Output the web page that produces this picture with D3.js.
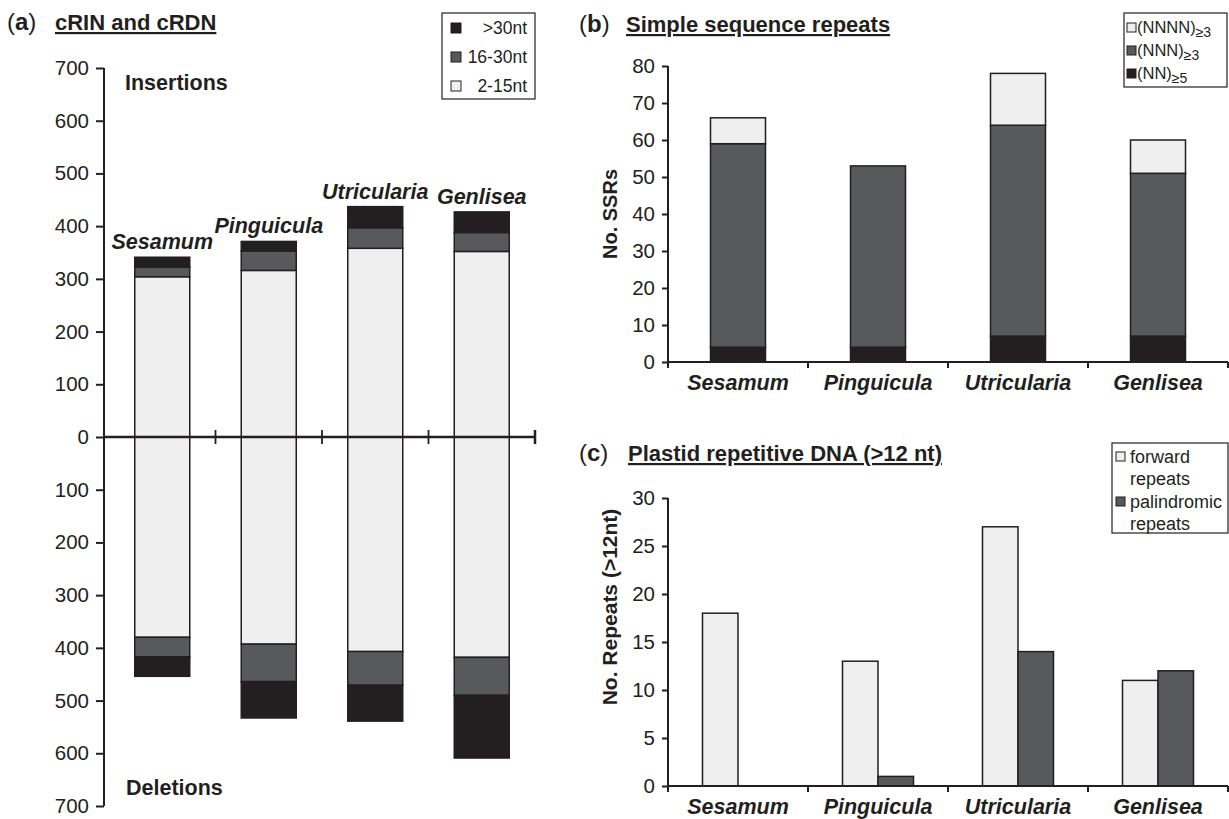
<!DOCTYPE html>
<html><head><meta charset="utf-8">
<script src="https://cdn.jsdelivr.net/npm/d3@7"></script>
<style>
body{margin:0;background:#fff;}
text{font-family:"Liberation Sans",Arial,Helvetica,sans-serif;fill:#231f20;}
</style></head>
<body><svg id="c" width="1229" height="819"></svg>
<script>
// ---- data ----
const species = ["Sesamum","Pinguicula","Utricularia","Genlisea"];
// (a) cRIN insertions / cRDN deletions by size class
const insSmall = [304,316,358,352];   // 2-15nt
const insMid   = [18,37,39,36];       // 16-30nt
const insLarge = [19,18,40,39];       // >30nt
const delSmall = [380,393,407,418];
const delMid   = [37,71,64,72];
const delLarge = [37,69,68,119];
const ticksA = [-700,-600,-500,-400,-300,-200,-100,0,100,200,300,400,500,600,700];
// (b) SSRs
const ssrNN   = [4,4,7,7];
const ssrNNN  = [55,49,57,44];
const ssrNNNN = [7,0,14,9];
const ticksB = [0,10,20,30,40,50,60,70,80];
// (c) plastid repeats
const fwdRep = [18,13,27,11];
const palRep = [0,1,14,12];
const ticksC = [0,5,10,15,20,25,30];

const BLACK="#231f20", DARK="#58595b", LIGHT="#efefef";
const FT="20.5px", FCAT="21.5px", FTITLE="22px";
const svg = d3.select("#c");

function panelTitle(x, y, letter, title, tx){
  const t = svg.append("text").attr("x",x).attr("y",y).style("font-size","24px");
  t.append("tspan").text("(");
  t.append("tspan").style("font-weight","bold").text(letter);
  t.append("tspan").text(")");
  svg.append("text").attr("x",tx).attr("y",y).style("font-size",FTITLE)
    .style("font-weight","bold").style("text-decoration","underline").text(title);
}
function styleAxis(ax, y0, y1){
  ax.select(".domain").attr("d",`M0,${y0}V${y1}`).attr("stroke",BLACK).attr("stroke-width",2);
  ax.selectAll(".tick line").attr("stroke",BLACK).attr("stroke-width",2);
  ax.selectAll("text").style("font-size",FT).attr("fill",BLACK);
}

// ================= (a) =================
panelTitle(7,30,"a","cRIN and cRDN",55);
const yA = d3.scaleLinear().domain([-700,700]).range([806,68]);
const xA = d3.scaleBand().domain(species).range([109,535]);
const axA = svg.append("g").attr("transform","translate(104,0)")
  .call(d3.axisLeft(yA).tickValues(ticksA).tickSize(8).tickPadding(7).tickFormat(d=>Math.abs(d)));
styleAxis(axA,68,806);

const bwA = 55;
function stackA(vals, sign){
  species.forEach((s,i)=>{
    let acc=0;
    vals.forEach(([arr,col])=>{
      const v=arr[i]; const y0=yA(sign*acc), y1=yA(sign*(acc+v));
      svg.append("rect").attr("x",xA(s)+xA.bandwidth()/2-bwA/2).attr("width",bwA)
        .attr("y",Math.min(y0,y1)).attr("height",Math.abs(y1-y0))
        .attr("fill",col).attr("stroke",BLACK).attr("stroke-width",1.5);
      acc+=v;
    });
  });
}
stackA([[insSmall,LIGHT],[insMid,DARK],[insLarge,BLACK]],1);
stackA([[delSmall,LIGHT],[delMid,DARK],[delLarge,BLACK]],-1);
// zero line with category ticks
svg.append("line").attr("x1",104).attr("x2",535).attr("y1",yA(0)).attr("y2",yA(0))
  .attr("stroke",BLACK).attr("stroke-width",2.5);
species.forEach(s=>{
  const x=xA(s)+xA.bandwidth();
  svg.append("line").attr("x1",x).attr("x2",x).attr("y1",yA(0)-7).attr("y2",yA(0)+7)
    .attr("stroke",BLACK).attr("stroke-width",s==="Genlisea"?2.5:1.8);
});
// species labels above bars
species.forEach((s,i)=>{
  const tot=insSmall[i]+insMid[i]+insLarge[i];
  svg.append("text").attr("x",xA(s)+xA.bandwidth()/2).attr("y",yA(tot)-8)
    .attr("text-anchor","middle").style("font-size",FCAT).style("font-weight","bold")
    .style("font-style","italic").text(s);
});
svg.append("text").attr("x",125).attr("y",90).style("font-size",FCAT).style("font-weight","bold").text("Insertions");
svg.append("text").attr("x",126).attr("y",795).style("font-size",FCAT).style("font-weight","bold").text("Deletions");
// legend (a)
(function(){
  const g=svg.append("g");
  g.append("rect").attr("x",442).attr("y",13).attr("width",93).attr("height",86)
    .attr("fill","#fff").attr("stroke",BLACK).attr("stroke-width",1.2);
  const items=[[">30nt",BLACK],["16-30nt",DARK],["2-15nt",LIGHT]];
  items.forEach(([lab,col],k)=>{
    const cy=28+k*29;
    g.append("rect").attr("x",451).attr("y",cy-5).attr("width",10).attr("height",10)
      .attr("fill",col).attr("stroke",BLACK).attr("stroke-width",1);
    g.append("text").attr("x",527).attr("y",cy+6).attr("text-anchor","end")
      .style("font-size","17.5px").text(lab);
  });
})();

// ================= (b) =================
panelTitle(579,32,"b","Simple sequence repeats",626);
const xB = d3.scaleBand().domain(species).range([668,1228]);
const yB = d3.scaleLinear().domain([0,80]).range([362,66]);
const axBy = svg.append("g").attr("transform","translate(668,0)")
  .call(d3.axisLeft(yB).tickValues(ticksB).tickSize(6).tickPadding(7));
styleAxis(axBy,66,362);
const bwB=55;
species.forEach((s,i)=>{
  let acc=0;
  [[ssrNN,BLACK],[ssrNNN,DARK],[ssrNNNN,LIGHT]].forEach(([arr,col])=>{
    const v=arr[i]; if(v<=0) return;
    svg.append("rect").attr("x",xB(s)+xB.bandwidth()/2-bwB/2).attr("width",bwB)
      .attr("y",yB(acc+v)).attr("height",yB(acc)-yB(acc+v))
      .attr("fill",col).attr("stroke",BLACK).attr("stroke-width",1.5);
    acc+=v;
  });
});
function xAxisCat(xs, y){
  svg.append("line").attr("x1",668).attr("x2",1228).attr("y1",y).attr("y2",y)
    .attr("stroke",BLACK).attr("stroke-width",2);
  const b=[668].concat(species.map(s=>xs(s)+xs.bandwidth()));
  b.forEach(x=>svg.append("line").attr("x1",x).attr("x2",x).attr("y1",y).attr("y2",y+6)
    .attr("stroke",BLACK).attr("stroke-width",2));
  species.forEach(s=>svg.append("text").attr("x",xs(s)+xs.bandwidth()/2).attr("y",y+28)
    .attr("text-anchor","middle").style("font-size",FCAT).style("font-weight","bold")
    .style("font-style","italic").text(s));
}
xAxisCat(xB,362);
svg.append("text").attr("transform","translate(617,214) rotate(-90)").attr("text-anchor","middle")
  .style("font-size","20px").style("font-weight","bold").text("No. SSRs");
// legend (b)
(function(){
  const g=svg.append("g");
  g.append("rect").attr("x",1124).attr("y",13).attr("width",103).attr("height",74)
    .attr("fill","#fff").attr("stroke",BLACK).attr("stroke-width",1.2);
  const items=[["(NNNN)","≥3",LIGHT],["(NNN)","≥3",DARK],["(NN)","≥5",BLACK]];
  items.forEach(([lab,sub,col],k)=>{
    const cy=27+k*23;
    g.append("rect").attr("x",1127).attr("y",cy-4).attr("width",9).attr("height",9)
      .attr("fill",col).attr("stroke",BLACK).attr("stroke-width",1);
    const t=g.append("text").attr("x",1137).attr("y",cy+6).style("font-size","16.5px");
    t.append("tspan").text(lab);
    t.append("tspan").attr("dy",4).style("font-size","14px").text(sub);
  });
})();

// ================= (c) =================
panelTitle(579,461,"c","Plastid repetitive DNA (>12 nt)",628);
const xC = d3.scaleBand().domain(species).range([668,1228]);
const yC = d3.scaleLinear().domain([0,30]).range([786,498]);
const axCy = svg.append("g").attr("transform","translate(668,0)")
  .call(d3.axisLeft(yC).tickValues(ticksC).tickSize(6).tickPadding(7));
styleAxis(axCy,498,786);
const sub = d3.scaleBand().domain(["fwd","pal"]).range([0,71]);
species.forEach((s,i)=>{
  const x0 = xC(s)+xC.bandwidth()/2-35.5;
  [["fwd",fwdRep[i],LIGHT],["pal",palRep[i],DARK]].forEach(([k,v,col])=>{
    if(v<=0) return;
    svg.append("rect").attr("x",x0+sub(k)).attr("width",sub.bandwidth())
      .attr("y",yC(v)).attr("height",yC(0)-yC(v))
      .attr("fill",col).attr("stroke",BLACK).attr("stroke-width",1.5);
  });
});
xAxisCat(xC,786);
svg.append("text").attr("transform","translate(617,607) rotate(-90)").attr("text-anchor","middle")
  .style("font-size","21px").style("font-weight","bold").text("No. Repeats (>12nt)");
// legend (c)
(function(){
  const g=svg.append("g");
  g.append("rect").attr("x",1112).attr("y",443).attr("width",116).attr("height",90)
    .attr("fill","#fff").attr("stroke",BLACK).attr("stroke-width",1.2);
  const items=[["forward","repeats",LIGHT],["palindromic","repeats",DARK]];
  items.forEach(([l1,l2,col],k)=>{
    const cy=457+k*45;
    g.append("rect").attr("x",1116).attr("y",cy-5).attr("width",9).attr("height",9)
      .attr("fill",col).attr("stroke",BLACK).attr("stroke-width",1);
    g.append("text").attr("x",1130).attr("y",cy+6).style("font-size","18px").text(l1);
    g.append("text").attr("x",1130).attr("y",cy+28).style("font-size","18px").text(l2);
  });
})();
</script></body></html>
